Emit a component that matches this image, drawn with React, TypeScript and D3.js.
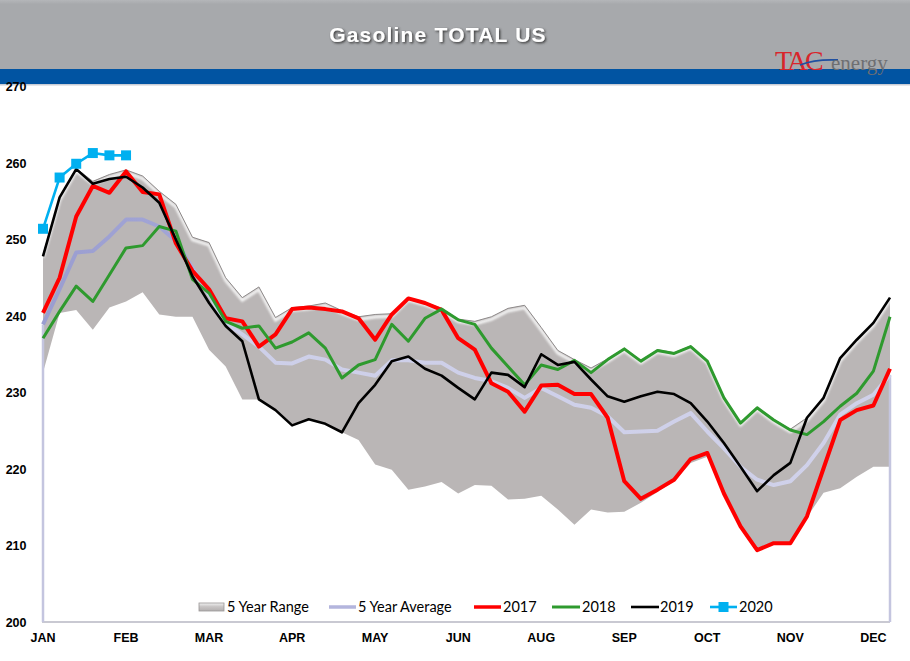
import React from "react";
import * as d3 from "d3";

const monthLabels = ["JAN", "FEB", "MAR", "APR", "MAY", "JUN", "AUG", "SEP", "OCT", "NOV", "DEC"];
const yTicks = [200, 210, 220, 230, 240, 250, 260, 270];

const rangeMax = [248.0, 255.5, 259.3, 257.6, 258.5, 259.1, 258.3, 256.3, 254.6, 250.3, 249.6, 245.0, 242.4, 243.8, 239.8, 241.1, 241.3, 241.7, 240.7, 239.9, 240.2, 240.3, 242.4, 241.8, 241.0, 239.6, 239.3, 239.9, 241.0, 241.4, 238.5, 235.5, 234.3, 233.2, 234.4, 235.8, 234.2, 235.6, 235.2, 236.1, 234.2, 229.4, 226.1, 228.1, 226.5, 225.2, 226.7, 229.3, 234.5, 236.9, 239.1, 242.4];
const rangeMin = [232.6, 240.4, 240.8, 238.2, 241.1, 241.9, 243.1, 240.2, 239.9, 239.9, 235.6, 233.4, 229.1, 229.1, 227.7, 225.7, 226.5, 225.9, 224.8, 223.8, 220.6, 219.9, 217.3, 217.7, 218.3, 216.8, 217.9, 217.8, 216.0, 216.1, 216.5, 214.7, 212.7, 214.7, 214.3, 214.4, 215.6, 217.0, 218.4, 220.8, 221.6, 216.8, 212.5, 209.4, 210.3, 210.3, 213.7, 216.9, 217.5, 219.0, 220.3, 220.3];
const avg5 = [238.9, 243.5, 248.3, 248.5, 250.4, 252.6, 252.6, 251.7, 249.8, 246.3, 242.8, 239.1, 237.6, 236.0, 233.9, 233.8, 234.7, 234.3, 233.0, 232.6, 232.2, 234.2, 234.2, 233.9, 233.9, 232.6, 231.9, 231.5, 230.6, 229.3, 230.6, 229.5, 228.4, 228.0, 226.9, 224.8, 224.9, 225.0, 226.2, 227.3, 224.9, 222.7, 220.3, 218.6, 217.9, 218.4, 220.5, 223.4, 227.1, 228.6, 229.7, 232.3];
const y2017 = [240.4, 245.0, 253.0, 257.0, 256.1, 258.9, 256.2, 255.9, 249.5, 245.9, 243.5, 239.7, 239.3, 236.0, 237.6, 240.9, 241.1, 240.9, 240.6, 239.7, 236.9, 240.2, 242.3, 241.7, 240.8, 237.1, 235.6, 231.2, 230.1, 227.5, 230.9, 231.0, 229.8, 229.8, 226.7, 218.4, 216.1, 217.3, 218.6, 221.3, 222.1, 216.8, 212.5, 209.4, 210.3, 210.3, 213.8, 220.1, 226.4, 227.7, 228.3, 233.1];
const y2018 = [237.1, 240.6, 243.9, 241.9, 245.4, 248.9, 249.2, 251.7, 251.1, 244.8, 243.0, 239.3, 238.4, 238.7, 235.8, 236.6, 237.8, 235.8, 231.9, 233.6, 234.3, 238.9, 236.7, 239.7, 240.9, 239.5, 238.9, 235.8, 233.4, 231.0, 233.6, 233.0, 234.2, 232.6, 234.3, 235.7, 234.1, 235.5, 235.1, 236.0, 234.1, 229.3, 226.0, 228.0, 226.4, 225.1, 224.5, 226.2, 228.2, 229.9, 232.8, 239.9];
const y2019 = [247.8, 255.5, 259.2, 257.3, 257.9, 258.2, 256.8, 254.8, 250.0, 245.2, 241.7, 238.7, 236.7, 229.1, 227.7, 225.7, 226.5, 225.9, 224.8, 228.6, 231.0, 234.1, 234.7, 233.1, 232.2, 230.6, 229.1, 232.6, 232.3, 230.7, 235.0, 233.6, 234.0, 231.7, 229.5, 228.8, 229.5, 230.1, 229.8, 228.6, 226.2, 223.4, 220.3, 217.1, 219.2, 220.8, 226.7, 229.3, 234.5, 236.9, 239.1, 242.4];
const y2020 = [251.4, 258.1, 259.9, 261.3, 261.0, 261.0];

const W = 910;
const H = 661;
const FONT = "'Liberation Sans', Arial, sans-serif";
const LEG_FONT = "Lato, 'Open Sans', sans-serif";

export default function App() {
  const idx = d3.range(rangeMax.length);
  const x = d3.scaleLinear().domain([0, 51]).range([43, 890]);
  const y = d3.scaleLinear().domain([200, 270]).range([622, 86.5]);

  const area = d3
    .area<number>()
    .x((i) => x(i))
    .y0((i) => y(rangeMin[i]))
    .y1((i) => y(rangeMax[i]));
  const maxLine = d3
    .line<number>()
    .x((i) => x(i))
    .y((i) => y(rangeMax[i]));
  const line = (arr: number[]) =>
    d3
      .line<number>()
      .x((_, i) => x(i))
      .y((v) => y(v))(arr) as string;

  const last = avg5.length - 1;
  const legendY = 607;

  return (
    <svg
      width={W}
      height={H}
      style={{ position: "absolute", left: 0, top: 0, background: "#fff" }}
    >
      <defs>
        <clipPath id="areaClip">
          <path d={area(idx) as string} />
        </clipPath>
        <filter id="soft" x="-5%" y="-5%" width="110%" height="110%">
          <feGaussianBlur stdDeviation="1.2" />
        </filter>
        <filter id="tshadow" x="-10%" y="-30%" width="120%" height="160%">
          <feDropShadow dx="1.3" dy="1.3" stdDeviation="0.9" floodColor="#333" floodOpacity="0.95" />
        </filter>
        <linearGradient id="avgGrad" gradientUnits="userSpaceOnUse" x1={x(0)} x2={x(51)} y1={0} y2={0}>
          <stop offset="0" stopColor="#9a9dd0" />
          <stop offset="0.17" stopColor="#a3a6d6" />
          <stop offset="0.2" stopColor="#cdcfe9" />
          <stop offset="1" stopColor="#d0d1ea" />
        </linearGradient>
        <linearGradient id="swatchGrad" x1="0" x2="0" y1="0" y2="1">
          <stop offset="0" stopColor="#f2f2f2" />
          <stop offset="0.45" stopColor="#c8c5c5" />
          <stop offset="1" stopColor="#b3afaf" />
        </linearGradient>
        <linearGradient id="headGrad" x1="0" x2="0" y1="0" y2="1">
          <stop offset="0" stopColor="#b4b6b9" />
          <stop offset="0.06" stopColor="#a7a9ac" />
          <stop offset="1" stopColor="#a7a9ac" />
        </linearGradient>
      </defs>

      {/* header */}
      <rect x={0} y={0} width={W} height={69} fill="url(#headGrad)" />
      <rect x={0} y={69} width={W} height={15} fill="#0154a2" />
      <rect x={0} y={84} width={W} height={1.5} fill="#c9cdd6" />
      <text
        x={438}
        y={42}
        textAnchor="middle"
        fill="#ffffff"
        fontFamily={FONT}
        fontWeight="bold"
        fontSize={21}
        letterSpacing={1.2}
        filter="url(#tshadow)"
      >
        Gasoline TOTAL US
      </text>
      {/* logo */}
      <g>
        <text x={775} y={70} fontFamily="'Liberation Serif', 'DejaVu Serif', serif" fontSize={28} fill="#d9252b" letterSpacing={-2.5}>
          TAC
        </text>
        <path d="M 800 65 Q 815 59 838 60" stroke="#1f4fa0" strokeWidth={1.8} fill="none" />
        <text x={831} y={70} fontFamily="'Liberation Serif', 'DejaVu Serif', serif" fontSize={21} fill="#6e6f72">
          energy
        </text>
      </g>

      {/* 5 year range */}
      <path d={area(idx) as string} fill="#bab6b6" />
      <g clipPath="url(#areaClip)">
        <path
          d={maxLine(idx) as string}
          transform="translate(0,2.6)"
          stroke="#f7f7f7"
          strokeWidth={3}
          fill="none"
          filter="url(#soft)"
          opacity={0.95}
        />
      </g>
      <path d={maxLine(idx) as string} stroke="#8f8b8b" strokeWidth={1} fill="none" />

      {/* axes */}
      <line x1={42} x2={890} y1={622} y2={622} stroke="#c9c9d2" strokeWidth={2} />

      {/* series */}
      <line x1={x(0)} x2={x(0)} y1={y(200)} y2={y(avg5[0])} stroke="#c4c5df" strokeWidth={2.5} />
      <line x1={x(last)} x2={x(last)} y1={y(200)} y2={y(avg5[last])} stroke="#c4c5df" strokeWidth={2.5} />
      <path d={line(avg5)} stroke="url(#avgGrad)" strokeWidth={4} fill="none" strokeLinejoin="round" />
      <path d={line(y2017)} stroke="#ff0000" strokeWidth={4} fill="none" strokeLinejoin="round" />
      <path d={line(y2018)} stroke="#2e9a2e" strokeWidth={3} fill="none" strokeLinejoin="round" />
      <path d={line(y2019)} stroke="#000000" strokeWidth={2.6} fill="none" strokeLinejoin="round" />
      <path d={line(y2020)} stroke="#00b0f0" strokeWidth={2.6} fill="none" strokeLinejoin="round" />
      {y2020.map((v, i) => (
        <rect key={i} x={x(i) - 5} y={y(v) - 5} width={10} height={10} fill="#00b0f0" />
      ))}

      {/* y tick labels */}
      {yTicks.map((t) => (
        <text
          key={t}
          x={26.5}
          y={y(t) + 4.5}
          textAnchor="end"
          fontFamily={FONT}
          fontWeight="bold"
          fontSize={12.5}
          fill="#000"
        >
          {t}
        </text>
      ))}

      {/* x tick labels */}
      {monthLabels.map((m, k) => (
        <text
          key={m}
          x={x(k * 5)}
          y={642}
          textAnchor="middle"
          fontFamily={FONT}
          fontWeight="bold"
          fontSize={12.5}
          fill="#000"
        >
          {m}
        </text>
      ))}

      {/* legend */}
      <g fontFamily={LEG_FONT} fontSize={14.5} fill="#000">
        <rect x={199} y={legendY - 4} width={25} height={8} fill="url(#swatchGrad)" stroke="#9a9696" strokeWidth={0.8} />
        <text x={227} y={legendY + 5}>5 Year Range</text>

        <line x1={329} x2={356} y1={legendY} y2={legendY} stroke="#b3b5dd" strokeWidth={3.5} />
        <text x={358} y={legendY + 5}>5 Year Average</text>

        <line x1={474} x2={501} y1={legendY} y2={legendY} stroke="#ff0000" strokeWidth={3.5} />
        <text x={503} y={legendY + 5}>2017</text>

        <line x1={552} x2={580} y1={legendY} y2={legendY} stroke="#2e9a2e" strokeWidth={3} />
        <text x={582} y={legendY + 5}>2018</text>

        <line x1={631} x2={659} y1={legendY} y2={legendY} stroke="#000" strokeWidth={2.6} />
        <text x={660} y={legendY + 5}>2019</text>

        <line x1={710} x2={737} y1={legendY} y2={legendY} stroke="#00b0f0" strokeWidth={2.6} />
        <rect x={718.5} y={legendY - 5} width={10} height={10} fill="#00b0f0" />
        <text x={739} y={legendY + 5}>2020</text>
      </g>
    </svg>
  );
}
